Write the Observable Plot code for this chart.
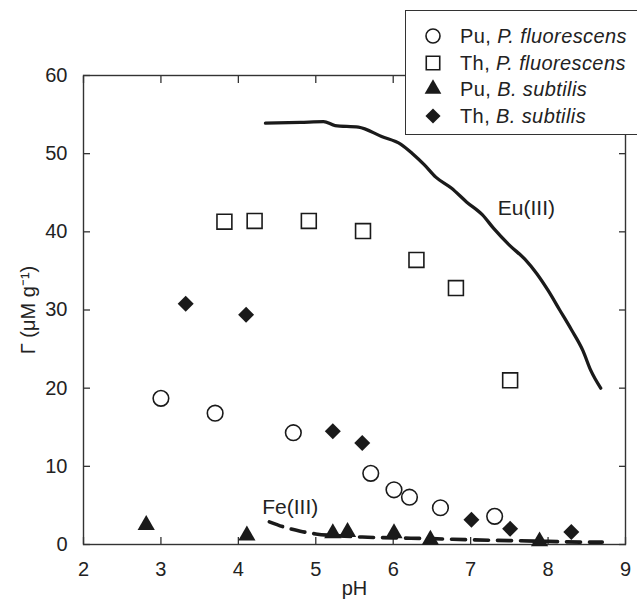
<!DOCTYPE html>
<html>
<head>
<meta charset="utf-8">
<script src="https://cdn.jsdelivr.net/npm/d3@7"></script>
<script src="https://cdn.jsdelivr.net/npm/@observablehq/plot@0.6"></script>
<style>
  html, body { margin: 0; padding: 0; background: #fff; }
  #wrap { position: relative; width: 637px; height: 599px; overflow: hidden; font-family: "Liberation Sans", Arial, sans-serif; }
  #legend { position: absolute; left: 405px; top: 10px; width: 250px; height: 125px; border: 1.3px solid #333; background: #fff; box-sizing: border-box; }
  .li { position: absolute; left: 0; height: 26px; display: flex; align-items: center; font-size: 20px; letter-spacing: 0.4px; color: #222; white-space: nowrap; }
  .li svg { margin-left: 17px; margin-right: 17px; flex: none; }
</style>
</head>
<body>
<div id="wrap"><div id="chart"></div><div id="legend"></div></div>
<script>
// Pu, P. fluorescens (open circles)
const puPfPH = [3.0, 3.7, 4.71, 5.71, 6.01, 6.21, 6.61, 7.31];
const puPfG  = [18.7, 16.8, 14.3, 9.1, 7.0, 6.05, 4.7, 3.6];
// Th, P. fluorescens (open squares)
const thPfPH = [3.82, 4.21, 4.91, 5.61, 6.30, 6.81, 7.51];
const thPfG  = [41.3, 41.4, 41.4, 40.1, 36.4, 32.8, 21.0];
// Pu, B. subtilis (filled triangles)
const puBsPH = [2.81, 4.11, 5.22, 5.41, 6.01, 6.48, 7.89];
const puBsG  = [2.5, 1.15, 1.45, 1.6, 1.45, 0.6, 0.4];
// Th, B. subtilis (filled diamonds)
const thBsPH = [3.32, 4.10, 5.22, 5.60, 7.01, 7.51, 8.30];
const thBsG  = [30.8, 29.4, 14.5, 13.0, 3.16, 2.0, 1.6];
// Eu(III) model curve
const euPH = [4.35, 4.8, 5.1, 5.25, 5.55, 5.85, 6.1, 6.25, 6.4, 6.55, 6.75, 6.95, 7.15, 7.3, 7.5, 7.7, 7.85, 8.0, 8.15, 8.3, 8.45, 8.55, 8.68];
const euG  = [53.9, 54.0, 54.1, 53.6, 53.4, 52.2, 51.2, 50.0, 48.6, 47.0, 45.6, 43.8, 42.2, 40.4, 38.3, 36.5, 34.7, 32.5, 30.0, 27.5, 24.8, 22.3, 20.0];
// Fe(III) model curve
const fePH = [4.4, 4.6, 4.8, 5.0, 5.3, 5.6, 6.0, 6.5, 7.0, 7.5, 8.0, 8.5, 8.7];
const feG  = [2.9, 2.2, 1.7, 1.35, 1.1, 0.95, 0.85, 0.75, 0.6, 0.5, 0.4, 0.3, 0.3];
// Curve labels
const curveLabels = ["Eu(III)", "Fe(III)"];
const curveLabelPH = [7.72, 4.67];
const curveLabelG = [43.0, 4.7];
// Axis ticks
const xTicks = [2, 3, 4, 5, 6, 7, 8, 9];
const yTicks = [0, 10, 20, 30, 40, 50, 60];
// Legend
const seriesNames = [["Pu, ", "P. fluorescens"], ["Th, ", "P. fluorescens"], ["Pu, ", "B. subtilis"], ["Th, ", "B. subtilis"]];

const zip = (xs, ys) => xs.map((x, i) => ({x, y: ys[i]}));
const ink = "#1a1a1a";
const axisColor = "#333";

const chart = Plot.plot({
  width: 637,
  height: 599,
  marginLeft: 83,
  marginRight: 12,
  marginTop: 75,
  marginBottom: 55,
  style: {fontFamily: "'Liberation Sans', Arial, sans-serif", fontSize: "20px", color: "#222", background: "#fff"},
  x: {domain: [2, 9], label: null},
  y: {domain: [0, 60], label: null},
  marks: [
    Plot.frame({stroke: axisColor, strokeWidth: 1.4}),
    Plot.axisX(xTicks, {anchor: "bottom", tickSize: -7, tickPadding: 24, stroke: axisColor, strokeWidth: 1.3, tickFormat: d => String(d), fill: "#222", fontSize: 20}),
    Plot.axisX(xTicks, {anchor: "top", tickSize: -7, tickFormat: () => "", stroke: axisColor, strokeWidth: 1.3}),
    Plot.axisY(yTicks, {anchor: "left", tickSize: -7, tickPadding: 23, stroke: axisColor, strokeWidth: 1.3, tickFormat: d => String(d), fill: "#222", fontSize: 20}),
    Plot.axisY(yTicks, {anchor: "right", tickSize: -7, tickFormat: () => "", stroke: axisColor, strokeWidth: 1.3}),
    Plot.line(zip(euPH, euG), {x: "x", y: "y", stroke: ink, strokeWidth: 3.3, curve: "monotone-x"}),
    Plot.line(zip(fePH, feG), {x: "x", y: "y", stroke: ink, strokeWidth: 3.6, strokeDasharray: "14,9", curve: "monotone-x"}),
    Plot.text(curveLabels.map((t, i) => ({t, x: curveLabelPH[i], y: curveLabelG[i]})), {x: "x", y: "y", text: "t", fill: "#222", fontSize: 21, style: "letter-spacing:0.6px"}),
    Plot.dot(zip(puPfPH, puPfG), {x: "x", y: "y", symbol: "circle", r: 7.8, stroke: ink, strokeWidth: 1.6, fill: "white"}),
    Plot.dot(zip(thPfPH, thPfG), {x: "x", y: "y", symbol: "square", r: 8.4, stroke: ink, strokeWidth: 1.6, fill: "white"}),
    Plot.dot(zip(puBsPH, puBsG), {x: "x", y: "y", symbol: "triangle", r: 6.4, fill: ink, stroke: "none"}),
    Plot.dot(zip(thBsPH, thBsG), {x: "x", y: "y", symbol: "diamond2", r: 7.2, fill: ink, stroke: "none"}),
    Plot.text(["pH"], {frameAnchor: "bottom", dy: 50, fill: "#222", fontSize: 20}),
    Plot.text(["Γ (μM g⁻¹)"], {frameAnchor: "left", textAnchor: "middle", dx: -55, rotate: -90, fill: "#222", fontSize: 20})
  ]
});
document.getElementById("chart").appendChild(chart);

// Legend built from the series names, symbols drawn with d3 symbol generators
const legend = document.getElementById("legend");
const symbols = [
  {type: d3.symbolCircle, size: Math.PI * 7 * 7, fill: "white", stroke: ink},
  {type: d3.symbolSquare, size: Math.PI * 7.6 * 7.6, fill: "white", stroke: ink},
  {type: d3.symbolTriangle, size: Math.PI * 6.2 * 6.2, fill: ink, stroke: "none"},
  {type: d3.symbolDiamond2, size: Math.PI * 6.8 * 6.8, fill: ink, stroke: "none"}
];
const legendTops = [12, 39, 65, 92];
seriesNames.forEach((name, i) => {
  const row = document.createElement("div");
  row.className = "li";
  row.style.top = legendTops[i] + "px";
  const s = symbols[i];
  const svg = d3.create("svg").attr("width", 20).attr("height", 20);
  svg.append("path").attr("transform", "translate(10,10)")
    .attr("d", d3.symbol(s.type, s.size)())
    .attr("fill", s.fill).attr("stroke", s.stroke).attr("stroke-width", 1.6);
  row.appendChild(svg.node());
  const t1 = document.createElement("span"); t1.textContent = name[0];
  const t2 = document.createElement("i"); t2.textContent = name[1];
  t1.style.whiteSpace = "pre";
  row.appendChild(t1); row.appendChild(t2);
  legend.appendChild(row);
});
</script>
</body>
</html>
